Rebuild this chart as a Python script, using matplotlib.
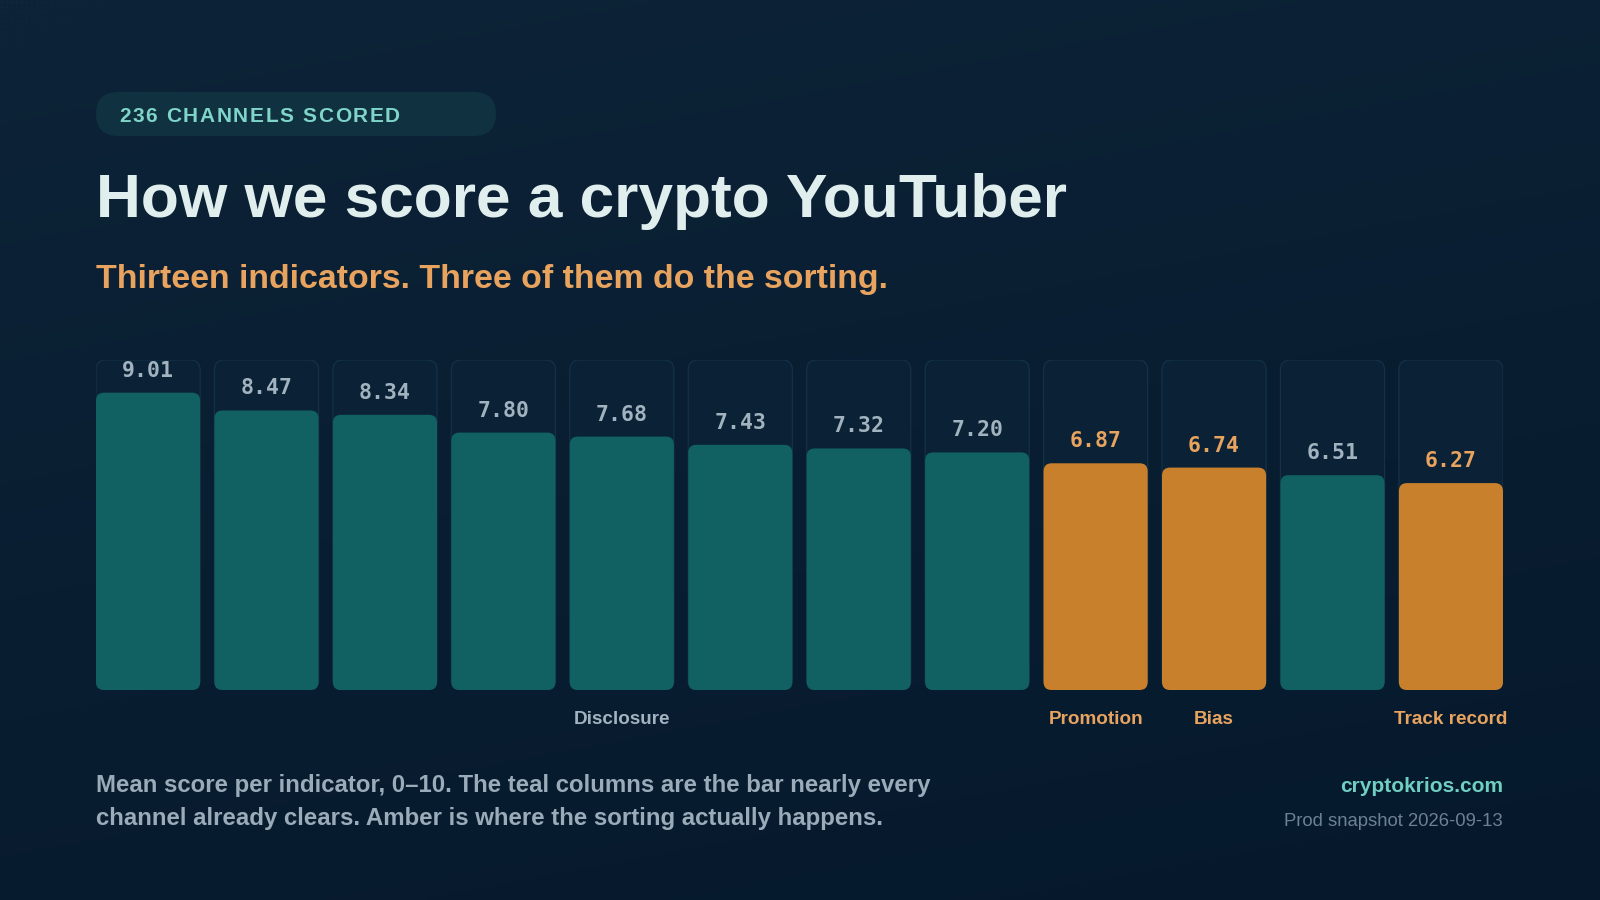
import matplotlib
matplotlib.use("Agg")
import matplotlib.pyplot as plt
import numpy as np
from matplotlib.colors import LinearSegmentedColormap
from matplotlib.patches import FancyBboxPatch

W, H, DPI = 1600, 900, 100

BG_TOP = "#0d2337"
BG_BOTTOM = "#06192c"
PILL_BG = "#10313f"
PILL_FG = "#7fd5ca"
TITLE_FG = "#e0efee"
AMBER_TEXT = "#e8a35f"
GRAY_TEXT = "#a2b3c0"
NOTE_FG = "#9aacba"
SITE_FG = "#6fcfc3"
SNAP_FG = "#6b8292"
TEAL = "#116163"
AMBER = "#c8802c"
CARD_FILL = "#0b2135"
CARD_EDGE = "#133246"

# data
SCORES = [9.01, 8.47, 8.34, 7.80, 7.68, 7.43, 7.32, 7.20, 6.87, 6.74, 6.51, 6.27]
HIGHLIGHT = [False, False, False, False, False, False, False, False, True, True, False, True]
NAMES = ["", "", "", "", "Disclosure", "", "", "", "Promotion", "Bias", "", "Track record"]
SCALE_MAX = 10

BADGE = "236 CHANNELS SCORED"
TITLE = "How we score a crypto YouTuber"
SUBTITLE = "Thirteen indicators. Three of them do the sorting."
NOTE = ["Mean score per indicator, 0\u201310. The teal columns are the bar nearly every",
        "channel already clears. Amber is where the sorting actually happens."]
SITE = "cryptokrios.com"
SNAPSHOT = "Prod snapshot 2026-09-13"

plt.rcParams["font.family"] = ["Liberation Sans", "DejaVu Sans"]

fig = plt.figure(figsize=(W / DPI, H / DPI), dpi=DPI)
renderer = fig.canvas.get_renderer()

# background layer in pixel coordinates
bg = fig.add_axes([0, 0, 1, 1])
bg.set_xlim(0, W)
bg.set_ylim(H, 0)
bg.axis("off")
yy, xx = np.mgrid[0:H:4, 0:W:4]
grad = 0.75 * yy / H + 0.25 * xx / W
cmap = LinearSegmentedColormap.from_list("bg", [BG_TOP, BG_BOTTOM])
bg.imshow(grad, cmap=cmap, extent=(0, W, H, 0), aspect="auto", zorder=0)

# faint dot texture in the top-left corner
dy, dx = np.mgrid[2:110:5, 2:200:5]
fade = 1 - (dx / 190.0 + dy / 100.0)
keep = fade > 0
bg.scatter(dx[keep], dy[keep], s=0.5, c="#2b5a66", alpha=np.clip(fade[keep], 0, 1) * 0.45,
           linewidths=0, zorder=1)


def text_width(s, size, **kw):
    t = fig.text(0, 0, s, fontsize=size, **kw)
    w = t.get_window_extent(renderer).width
    t.remove()
    return w


def fit_size(s, target_px, **kw):
    return 10 * target_px / text_width(s, 10, **kw)


# badge pill
bg.add_patch(FancyBboxPatch((96, 92), 400, 44, boxstyle="round,pad=0,rounding_size=22",
                            facecolor=PILL_BG, edgecolor="none", zorder=2))
badge_size = 15.0
natural = text_width(BADGE, badge_size, weight="bold")
tracking = (281 - natural) / (len(BADGE) - 1)
for i, ch in enumerate(BADGE):
    x0 = 119 + (text_width(BADGE[:i], badge_size, weight="bold") if i else 0) + i * tracking
    bg.text(x0, 122, ch, fontsize=badge_size, weight="bold", color=PILL_FG,
            ha="left", va="baseline", zorder=3)

# headline and subtitle
bg.text(96, 217, TITLE, fontsize=fit_size(TITLE, 970, weight="bold"), weight="bold",
        color=TITLE_FG, ha="left", va="baseline", zorder=3)
bg.text(96, 288, SUBTITLE, fontsize=fit_size(SUBTITLE, 795, weight="bold"), weight="bold",
        color=AMBER_TEXT, ha="left", va="baseline", zorder=3)

# bars
n = len(SCORES)
bw = 0.879
ax = fig.add_axes([96 / W, (H - 690) / H, (1503 - 96) / W, 330 / H])
ax.set_xlim(-bw / 2, n - 1 + bw / 2)
ax.set_ylim(0, SCALE_MAX)
ax.axis("off")
ax.patch.set_alpha(0)

px_x = (1503 - 96) / (n - 1 + bw)
px_y = 330 / SCALE_MAX
aspect = px_x / px_y
xs = np.arange(n)
colors = [AMBER if h else TEAL for h in HIGHLIGHT]

tracks = ax.bar(xs, [SCALE_MAX] * n, width=bw)
bars = ax.bar(xs, SCORES, width=bw, color=colors)

for rect in tracks:
    x0, y0, w, h = rect.get_x(), rect.get_y(), rect.get_width(), rect.get_height()
    rect.remove()
    ax.add_patch(FancyBboxPatch((x0, y0), w, h, boxstyle=f"round,pad=0,rounding_size={10 / px_x}",
                                mutation_aspect=aspect, facecolor=CARD_FILL, edgecolor=CARD_EDGE,
                                linewidth=0.9, zorder=1))
for rect, c in zip(bars, colors):
    x0, y0, w, h = rect.get_x(), rect.get_y(), rect.get_width(), rect.get_height()
    rect.remove()
    ax.add_patch(FancyBboxPatch((x0, y0), w, h, boxstyle=f"round,pad=0,rounding_size={8 / px_x}",
                                mutation_aspect=aspect, facecolor=c, edgecolor="none", zorder=2))

val_size = fit_size("9.01", 52, family="DejaVu Sans Mono", weight="bold")
for x, v, hl in zip(xs, SCORES, HIGHLIGHT):
    ax.annotate(f"{v:.2f}", (x, v), xytext=(0, 22 * 72 / DPI), textcoords="offset points",
                ha="center", va="center", family="DejaVu Sans Mono", weight="bold",
                fontsize=val_size, color=AMBER_TEXT if hl else GRAY_TEXT, zorder=3)

name_size = fit_size("Track record", 113, weight="bold")
for x, name, hl in zip(xs, NAMES, HIGHLIGHT):
    if not name:
        continue
    ax.annotate(name, (x, 0), xytext=(0, -34 * 72 / DPI), textcoords="offset points",
                ha="center", va="baseline", weight="bold", fontsize=name_size,
                color=AMBER_TEXT if hl else GRAY_TEXT, annotation_clip=False)

# footnote
note_size = fit_size(NOTE[0], 835, weight="bold")
bg.text(96, 792, NOTE[0], fontsize=note_size, weight="bold", color=NOTE_FG,
        ha="left", va="baseline", zorder=3)
bg.text(96, 825, NOTE[1], fontsize=note_size, weight="bold", color=NOTE_FG,
        ha="left", va="baseline", zorder=3)
bg.text(1503, 792, SITE, fontsize=fit_size(SITE, 162, weight="bold"), weight="bold",
        color=SITE_FG, ha="right", va="baseline", zorder=3)
bg.text(1503, 826, SNAPSHOT, fontsize=fit_size(SNAPSHOT, 219), color=SNAP_FG,
        ha="right", va="baseline", zorder=3)

fig.savefig("out.png", dpi=DPI, facecolor=BG_BOTTOM)
